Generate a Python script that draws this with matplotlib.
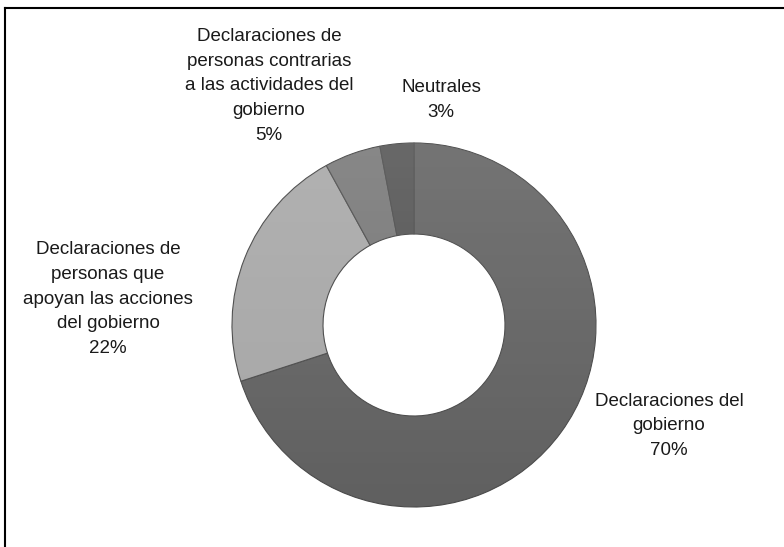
import matplotlib
matplotlib.use("Agg")
import matplotlib.pyplot as plt
import numpy as np
from matplotlib.lines import Line2D

# slice data, clockwise from 12 o'clock
labels = [
    "Declaraciones del\ngobierno",
    "Declaraciones de\npersonas que\napoyan las acciones\ndel gobierno",
    "Declaraciones de\npersonas contrarias\na las actividades del\ngobierno",
    "Neutrales",
]
values = [70, 22, 5, 3]
colors = ["#606060", "#a6a6a6", "#767676", "#525252"]

# label centres in pixels (x, y from top)
label_pos = [(669, 426), (108, 299), (269, 86), (441, 100)]

W, H = 784, 547
fig = plt.figure(figsize=(W / 100, H / 100), dpi=100)

cx, cy, r = 414, 325, 182
ax = fig.add_axes([(cx - r) / W, (H - cy - r) / H, 2 * r / W, 2 * r / H])
wedges, _ = ax.pie(values, colors=colors, startangle=90, counterclock=False,
                   radius=1, wedgeprops=dict(width=0.5, edgecolor="#4a4a4a", linewidth=0.8))
ax.set_aspect("auto")
ax.set_xlim(-1, 1)
ax.set_ylim(-1, 1)
ax.axis("off")

# soft light from the top, clipped to each slice
grad = np.linspace(0.13, 0.0, 256).reshape(-1, 1)
rgba = np.zeros((256, 1, 4))
rgba[..., :3] = 1.0
rgba[..., 3] = grad
for w in wedges:
    im = ax.imshow(rgba, extent=(-1, 1, -1, 1), aspect="auto", zorder=w.get_zorder() + 0.1)
    im.set_clip_path(w)
ax.set_xlim(-1, 1)
ax.set_ylim(-1, 1)

for lab, val, (px, py) in zip(labels, values, label_pos):
    fig.text(px / W, 1 - py / H, f"{lab}\n{val}%", ha="center", va="center",
             fontsize=13.5, color="#1a1a1a", linespacing=1.6,
             family=["Liberation Sans", "DejaVu Sans"])

# frame lines (top and left visible in the original crop)
fig.add_artist(Line2D([5 / W, 1], [1 - 8 / H, 1 - 8 / H], color="black", lw=1.5))
fig.add_artist(Line2D([5 / W, 5 / W], [0, 1 - 8 / H], color="black", lw=1.5))

fig.savefig("out.png", dpi=100)
